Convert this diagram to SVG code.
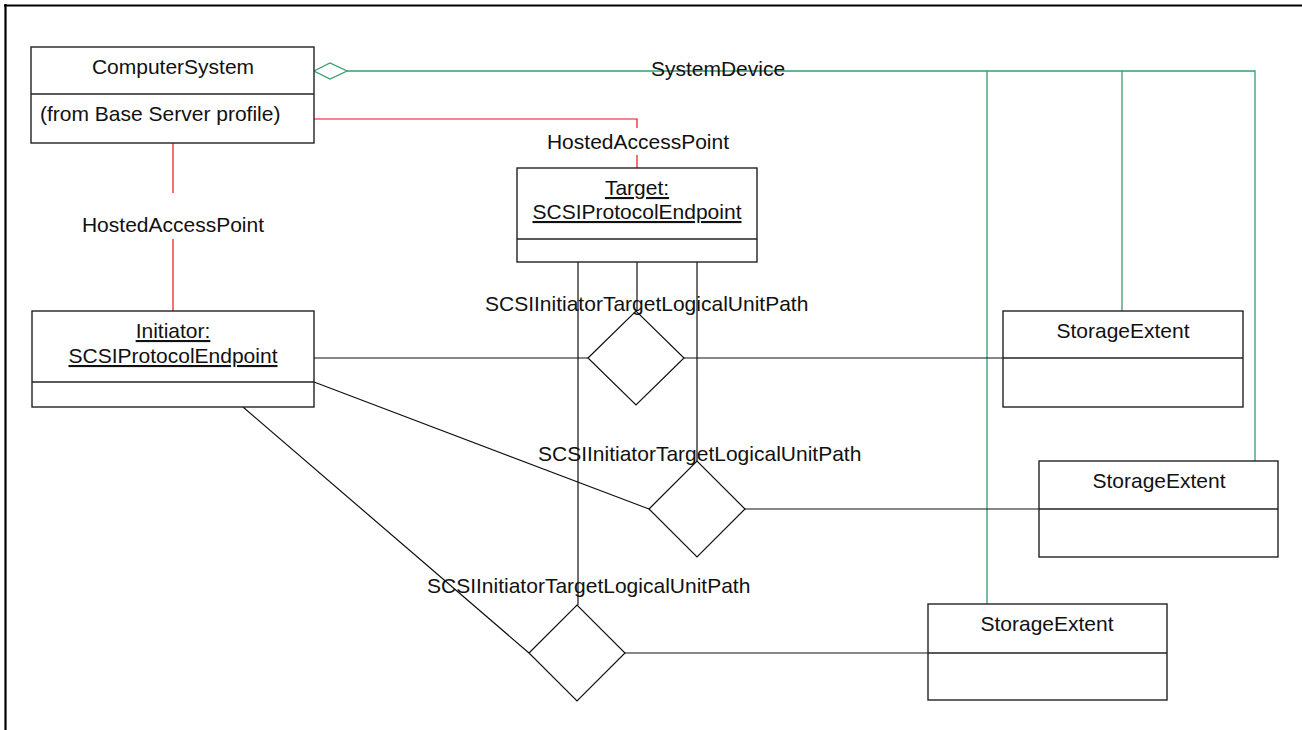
<svg xmlns="http://www.w3.org/2000/svg" width="1302" height="730" viewBox="0 0 1302 730">
<style>
text{font-family:"Liberation Sans",Arial,sans-serif;font-size:21px;fill:#111}
.c{text-anchor:middle}
.u{text-decoration:underline}
.box{fill:#fff;stroke:#222;stroke-width:1.4}
.div{stroke:#222;stroke-width:1.4}
.blk{fill:none;stroke:#111;stroke-width:1.2}
.dia{fill:#fff;stroke:#111;stroke-width:1.2}
.red{fill:none;stroke:#f01010;stroke-width:1.2}
.grn{fill:none;stroke:#3a9c6c;stroke-width:1.3}
</style>
<rect width="1302" height="730" fill="#fff"/>
<path d="M4,5.5H1302M5.5,4V730" fill="none" stroke="#000" stroke-width="2.2"/>
<g id="connectors">
<path class="grn" d="M347,71H1255V461M987,71V604M1122,71V311"/>
<polygon class="grn" points="314,71 330,63 347,71 330,79" fill="#fff"/>
<text x="718" y="76" class="c">SystemDevice</text>
<path class="red" d="M314,119H637V128M637,155V168"/>
<text x="638" y="149" class="c">HostedAccessPoint</text>
<path class="red" d="M173,143V193M173,239V311"/>
<text x="173" y="232" class="c">HostedAccessPoint</text>
<path class="blk" d="M314,358H588M684,358H1003M637,262V311M578,262V605M697,262V461M314,382L649,509M745,509H1039M243,407L529,653M625,653H928"/>
<polygon class="dia" points="588,358 636,311 684,358 636,405" fill="none"/>
<polygon class="dia" points="649,509 697,461 745,509 697,557" fill="none"/>
<polygon class="dia" points="529,653 577,605 625,653 577,701" fill="none"/>
<text x="485" y="311">SCSIInitiatorTargetLogicalUnitPath</text>
<text x="538" y="461">SCSIInitiatorTargetLogicalUnitPath</text>
<text x="427" y="593">SCSIInitiatorTargetLogicalUnitPath</text>
</g>
<g id="ComputerSystem">
<rect class="box" x="31" y="47" width="283" height="96"/>
<path class="div" d="M31,94H314"/>
<text x="173" y="74" class="c">ComputerSystem</text>
<text x="40" y="121">(from Base Server profile)</text>
</g>
<g id="Target">
<rect class="box" x="517" y="168" width="240" height="94"/>
<path class="div" d="M517,239H757"/>
<text x="637" y="195" class="c u">Target:</text>
<text x="637" y="219" class="c u">SCSIProtocolEndpoint</text>
</g>
<g id="Initiator">
<rect class="box" x="32" y="311" width="282" height="96"/>
<path class="div" d="M32,382H314"/>
<text x="173" y="338" class="c u">Initiator:</text>
<text x="173" y="363" class="c u">SCSIProtocolEndpoint</text>
</g>
<g id="StorageExtent1">
<rect class="box" x="1003" y="311" width="240" height="96"/>
<path class="div" d="M1003,358H1243"/>
<text x="1123" y="338" class="c">StorageExtent</text>
</g>
<g id="StorageExtent2">
<rect class="box" x="1039" y="461" width="239" height="96"/>
<path class="div" d="M1039,509H1278"/>
<text x="1159" y="488" class="c">StorageExtent</text>
</g>
<g id="StorageExtent3">
<rect class="box" x="928" y="604" width="239" height="96"/>
<path class="div" d="M928,653H1167"/>
<text x="1047" y="631" class="c">StorageExtent</text>
</g>
</svg>
